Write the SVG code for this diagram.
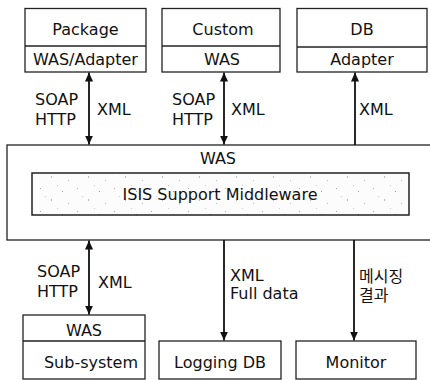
<svg xmlns="http://www.w3.org/2000/svg" width="430" height="380" viewBox="0 0 430 380">
  <style>
    .box { fill: #ffffff; stroke: #222; stroke-width: 1.3; }
    .div { stroke: #222; stroke-width: 1.3; fill: none; }
    .t { font-family: "DejaVu Sans", "Noto Sans CJK KR", sans-serif; font-size: 16px; fill: #111; }
    .c { text-anchor: middle; }
    .ln { stroke: #111; stroke-width: 1.8; fill: none; }
  </style>
  <defs>
    <marker id="head" viewBox="0 0 10 10" refX="10" refY="5" markerWidth="9" markerHeight="9" markerUnits="userSpaceOnUse" orient="auto-start-reverse">
      <path d="M0,0.5 L10,5 L0,9.5 Z" fill="#111"/>
    </marker>
    <!-- sparse grey speckle for the middleware panel -->
    <pattern id="speckle" width="37" height="23" patternUnits="userSpaceOnUse">
      <rect width="37" height="23" fill="#fcfcfc"/>
      <rect x="3" y="4" width="1" height="1" fill="#aaa"/>
      <rect x="14" y="15" width="1" height="2" fill="#bbb"/>
      <rect x="25" y="7" width="1" height="1" fill="#999"/>
      <rect x="31" y="19" width="1" height="1" fill="#bbb"/>
      <rect x="8" y="12" width="1" height="1" fill="#ccc"/>
      <rect x="20" y="1" width="1" height="1" fill="#ccc"/>
    </pattern>
  </defs>

  <!-- top row -->
  <g id="package">
    <rect class="box" x="25" y="8.5" width="121" height="63.5"/>
    <line class="div" x1="25" y1="46" x2="146" y2="46"/>
    <text class="t c" x="85.5" y="35">Package</text>
    <text class="t c" x="85.5" y="65">WAS/Adapter</text>
  </g>
  <g id="custom">
    <rect class="box" x="162" y="8.5" width="118" height="63.5"/>
    <line class="div" x1="162" y1="46" x2="280" y2="46"/>
    <text class="t c" x="223" y="35">Custom</text>
    <text class="t c" x="222" y="65">WAS</text>
  </g>
  <g id="db">
    <rect class="box" x="297" y="8.5" width="130" height="63.5"/>
    <line class="div" x1="297" y1="47" x2="427" y2="47"/>
    <text class="t c" x="362" y="35">DB</text>
    <text class="t c" x="362" y="65">Adapter</text>
  </g>

  <!-- central WAS with middleware -->
  <g id="was">
    <rect class="box" x="7" y="145" width="426" height="95"/>
    <text class="t c" x="218" y="164">WAS</text>
  </g>
  <g id="middleware">
    <rect x="32" y="173" width="377" height="42" fill="url(#speckle)" stroke="#222" stroke-width="1.5"/>
    <text class="t c" x="220" y="200">ISIS Support Middleware</text>
  </g>

  <!-- bottom row -->
  <g id="subsystem">
    <rect class="box" x="23" y="315" width="122" height="64"/>
    <line class="div" x1="23" y1="341" x2="145" y2="341"/>
    <text class="t c" x="84" y="336">WAS</text>
    <text class="t c" x="91" y="368">Sub-system</text>
  </g>
  <g id="logging-db">
    <rect class="box" x="159" y="341" width="122" height="38"/>
    <text class="t c" x="220" y="368">Logging DB</text>
  </g>
  <g id="monitor">
    <rect class="box" x="296" y="341" width="120" height="38"/>
    <text class="t c" x="356" y="368">Monitor</text>
  </g>

  <!-- connectors -->
  <g id="connectors">
    <line class="ln" x1="89" y1="72.5" x2="89" y2="144.5" marker-start="url(#head)" marker-end="url(#head)"/>
    <line class="ln" x1="224" y1="72.5" x2="224" y2="144.5" marker-start="url(#head)" marker-end="url(#head)"/>
    <line class="ln" x1="355" y1="145" x2="355" y2="72.5" marker-end="url(#head)"/>
    <line class="ln" x1="89" y1="240.5" x2="89" y2="314.5" marker-start="url(#head)" marker-end="url(#head)"/>
    <line class="ln" x1="224" y1="240" x2="224" y2="340.5" marker-end="url(#head)"/>
    <line class="ln" x1="354" y1="240" x2="354" y2="340.5" marker-end="url(#head)"/>

    <text class="t" x="35" y="105">SOAP</text>
    <text class="t" x="35" y="125">HTTP</text>
    <text class="t" x="97" y="115">XML</text>

    <text class="t" x="172" y="105">SOAP</text>
    <text class="t" x="172" y="125">HTTP</text>
    <text class="t" x="231" y="115">XML</text>

    <text class="t" x="359" y="115">XML</text>

    <text class="t" x="37" y="277">SOAP</text>
    <text class="t" x="37" y="297">HTTP</text>
    <text class="t" x="98" y="288">XML</text>

    <text class="t" x="230" y="281">XML</text>
    <text class="t" x="230" y="299">Full data</text>

    <text class="t" x="359" y="282">메시징</text>
    <text class="t" x="359" y="301">결과</text>
  </g>
</svg>
